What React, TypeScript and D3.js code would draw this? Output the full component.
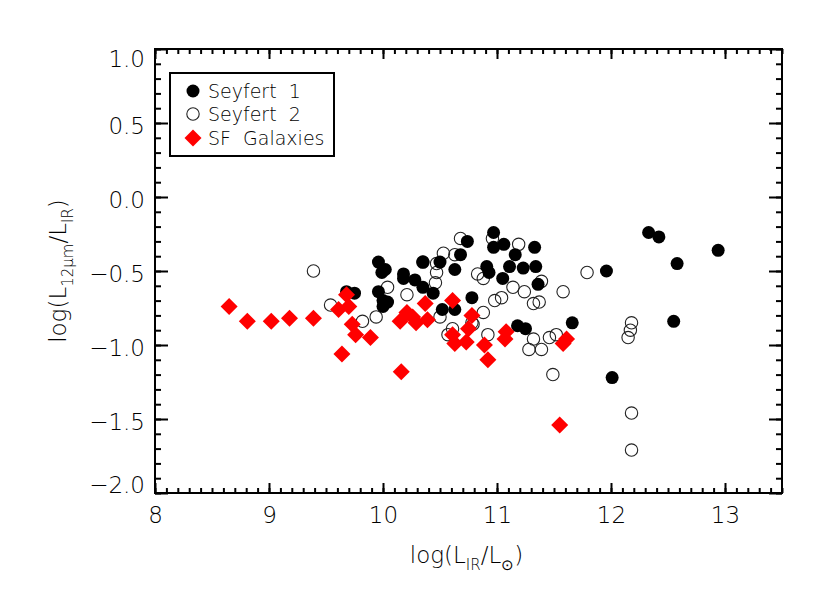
import React, { useEffect, useRef } from "react";
import * as d3 from "d3";

// Seyfert 1 (filled circles)
const s1Lir = [9.68, 9.75, 9.96, 9.99, 10.02, 9.96, 10.0, 10.04, 10.0, 10.18, 10.18, 10.28, 10.35, 10.5, 10.35, 10.44, 10.52, 10.63, 10.68, 10.74, 10.63, 10.78, 10.91, 10.93, 10.97, 10.97, 11.06, 11.16, 11.11, 11.23, 11.33, 11.34, 11.05, 11.36, 11.18, 11.25, 11.66, 11.96, 12.01, 12.33, 12.42, 12.58, 12.55, 12.94];
const s1Ratio = [-0.64, -0.65, -0.44, -0.51, -0.49, -0.64, -0.7, -0.71, -0.74, -0.52, -0.55, -0.56, -0.44, -0.44, -0.61, -0.65, -0.76, -0.76, -0.39, -0.3, -0.49, -0.68, -0.47, -0.51, -0.24, -0.34, -0.32, -0.39, -0.47, -0.48, -0.34, -0.47, -0.55, -0.59, -0.87, -0.89, -0.85, -0.5, -1.22, -0.24, -0.27, -0.45, -0.84, -0.36];

// Seyfert 2 (open circles)
const s2Lir = [9.39, 9.54, 9.82, 9.94, 10.04, 10.21, 10.35, 10.47, 10.46, 10.47, 10.53, 10.63, 10.68, 10.96, 11.19, 10.83, 10.88, 10.5, 10.57, 10.61, 10.79, 10.88, 10.98, 11.04, 11.14, 11.24, 11.32, 11.37, 11.39, 11.58, 11.79, 11.32, 11.28, 11.39, 11.46, 11.52, 11.49, 12.18, 12.17, 12.15, 12.18, 12.18, 10.92, 10.78];
const s2Ratio = [-0.5, -0.73, -0.84, -0.81, -0.61, -0.66, -0.44, -0.45, -0.58, -0.51, -0.38, -0.39, -0.28, -0.28, -0.32, -0.52, -0.55, -0.81, -0.93, -0.89, -0.86, -0.78, -0.7, -0.68, -0.61, -0.64, -0.72, -0.71, -0.57, -0.64, -0.51, -0.96, -1.03, -1.03, -0.95, -0.93, -1.2, -0.85, -0.9, -0.95, -1.46, -1.71, -0.93, -0.85];

// SF galaxies (red diamonds)
const sfLir = [8.65, 8.81, 9.02, 9.18, 9.39, 9.61, 9.68, 9.7, 9.73, 9.76, 9.64, 9.89, 10.16, 10.15, 10.21, 10.29, 10.37, 10.39, 10.26, 10.61, 10.61, 10.63, 10.73, 10.78, 10.75, 10.89, 10.92, 11.08, 11.07, 11.55, 11.58, 11.61];
const sfRatio = [-0.74, -0.84, -0.84, -0.82, -0.82, -0.76, -0.66, -0.74, -0.86, -0.93, -1.06, -0.95, -1.18, -0.84, -0.78, -0.85, -0.72, -0.83, -0.81, -0.7, -0.93, -0.99, -0.98, -0.8, -0.89, -1.0, -1.1, -0.91, -0.96, -1.54, -0.99, -0.96];

const xTicks = [8, 9, 10, 11, 12, 13];
const yTicks = [-2.0, -1.5, -1.0, -0.5, 0.0, 0.5, 1.0];
const legendLabels = ["Seyfert 1", "Seyfert 2", "SF Galaxies"];

const FONT = "DejaVu Sans, sans-serif";
const WEIGHT = 200;

const App = () => {
  const ref = useRef<SVGSVGElement>(null);

  useEffect(() => {
    const svg = d3.select(ref.current);
    svg.selectAll("*").remove();

    const left = 155;
    const right = 782;
    const top = 49;
    const bottom = 493;

    const x = d3.scaleLinear().domain([8, 13.5]).range([left, right]);
    const y = d3.scaleLinear().domain([-2, 1]).range([bottom, top]);

    const xMinor = d3.range(80, 136).map((v) => v / 10);
    const yMinor = d3.range(-20, 11).map((v) => v / 10);

    const styleAxis = (g) => {
      g.select(".domain").remove();
      g.selectAll("line").attr("stroke", "#000").attr("stroke-width", 2);
    };

    // minor ticks on all four sides
    svg.append("g").attr("transform", `translate(0,${bottom})`)
      .call(d3.axisBottom(x).tickValues(xMinor).tickSize(-5).tickFormat(() => ""))
      .call(styleAxis);
    svg.append("g").attr("transform", `translate(0,${top})`)
      .call(d3.axisTop(x).tickValues(xMinor).tickSize(-5).tickFormat(() => ""))
      .call(styleAxis);
    svg.append("g").attr("transform", `translate(${left},0)`)
      .call(d3.axisLeft(y).tickValues(yMinor).tickSize(-6).tickFormat(() => ""))
      .call(styleAxis);
    svg.append("g").attr("transform", `translate(${right},0)`)
      .call(d3.axisRight(y).tickValues(yMinor).tickSize(-6).tickFormat(() => ""))
      .call(styleAxis);

    // major ticks
    const xb = svg.append("g").attr("transform", `translate(0,${bottom})`)
      .call(d3.axisBottom(x).tickValues(xTicks).tickSize(-10).tickPadding(14).tickFormat(d3.format("d")))
      .call(styleAxis);
    xb.selectAll("text").attr("font-family", FONT).attr("font-weight", WEIGHT).attr("font-size", 23).attr("fill", "#000").attr("dy", "0.71em");
    svg.append("g").attr("transform", `translate(0,${top})`)
      .call(d3.axisTop(x).tickValues(xTicks).tickSize(-10).tickFormat(() => ""))
      .call(styleAxis);

    const yl = svg.append("g").attr("transform", `translate(${left},0)`)
      .call(d3.axisLeft(y).tickValues(yTicks).tickSize(-13).tickPadding(10).tickFormat(d3.format(".1f")))
      .call(styleAxis);
    yl.selectAll("text")
      .attr("font-family", FONT)
      .attr("font-weight", WEIGHT)
      .attr("font-size", 23)
      .attr("fill", "#000")
      .attr("dy", (d) => (d === 1 ? 17 : d === -2 ? -1 : 10));
    svg.append("g").attr("transform", `translate(${right},0)`)
      .call(d3.axisRight(y).tickValues(yTicks).tickSize(-13).tickFormat(() => ""))
      .call(styleAxis);

    // frame
    svg.append("rect")
      .attr("x", left).attr("y", top)
      .attr("width", right - left).attr("height", bottom - top)
      .attr("fill", "none").attr("stroke", "#000").attr("stroke-width", 2);

    // points
    const plot = svg.append("g");
    const diamond = (cx, cy, r) => `M${cx},${cy - r}L${cx + r},${cy}L${cx},${cy + r}L${cx - r},${cy}Z`;

    plot.selectAll(".s2").data(s2Lir).join("circle")
      .attr("class", "s2")
      .attr("cx", (d) => x(d))
      .attr("cy", (d, i) => y(s2Ratio[i]))
      .attr("r", 6.2)
      .attr("fill", "none").attr("stroke", "#222").attr("stroke-width", 1.1);

    plot.selectAll(".s1").data(s1Lir).join("circle")
      .attr("class", "s1")
      .attr("cx", (d) => x(d))
      .attr("cy", (d, i) => y(s1Ratio[i]))
      .attr("r", 6.5)
      .attr("fill", "#000");

    plot.selectAll(".sf").data(sfLir).join("path")
      .attr("class", "sf")
      .attr("d", (d, i) => diamond(x(d), y(sfRatio[i]), 8.5))
      .attr("fill", "#ff0000");

    // legend
    const lg = svg.append("g");
    lg.append("rect").attr("x", 170).attr("y", 73).attr("width", 164).attr("height", 83)
      .attr("fill", "#fff").attr("stroke", "#000").attr("stroke-width", 2);
    const ly = [91, 114, 138];
    lg.append("circle").attr("cx", 193).attr("cy", ly[0]).attr("r", 6.5).attr("fill", "#000");
    lg.append("circle").attr("cx", 193).attr("cy", ly[1]).attr("r", 6.2)
      .attr("fill", "none").attr("stroke", "#222").attr("stroke-width", 1.1);
    lg.append("path").attr("d", diamond(193, ly[2], 8.5)).attr("fill", "#ff0000");
    lg.selectAll(".lt").data(legendLabels).join("text")
      .attr("class", "lt")
      .attr("x", 208)
      .attr("y", (d, i) => ly[i] + 7)
      .attr("font-family", FONT)
      .attr("font-weight", WEIGHT)
      .attr("font-size", 19)
      .attr("fill", "#000")
      .attr("xml:space", "preserve")
      .text((d) => d.replace(" ", "  "));

    // x title
    const xt = svg.append("text")
      .attr("x", (left + right) / 2 - 2)
      .attr("y", 563)
      .attr("text-anchor", "middle")
      .attr("font-family", FONT)
      .attr("font-weight", WEIGHT)
      .attr("font-size", 23)
      .attr("fill", "#000");
    xt.append("tspan").text("log(L");
    xt.append("tspan").attr("font-size", 15).attr("dy", 7).text("IR");
    xt.append("tspan").attr("dy", -7).text("/L");
    xt.append("tspan").attr("font-size", 15).attr("dy", 7).text("⊙");
    xt.append("tspan").attr("dy", -7).text(")");

    // y title
    const yt = svg.append("text")
      .attr("transform", `translate(66,${(top + bottom) / 2}) rotate(-90)`)
      .attr("text-anchor", "middle")
      .attr("font-family", FONT)
      .attr("font-weight", WEIGHT)
      .attr("font-size", 23)
      .attr("fill", "#000");
    yt.append("tspan").text("log(L");
    yt.append("tspan").attr("font-size", 15).attr("dy", 7).text("12μm");
    yt.append("tspan").attr("dy", -7).text("/L");
    yt.append("tspan").attr("font-size", 15).attr("dy", 7).text("IR");
    yt.append("tspan").attr("dy", -7).text(")");
  }, []);

  return (
    <div style={{ position: "absolute", left: 0, top: 0 }}>
      <svg ref={ref} width={830} height={593} style={{ display: "block", background: "#fff" }} />
    </div>
  );
};

export default App;
